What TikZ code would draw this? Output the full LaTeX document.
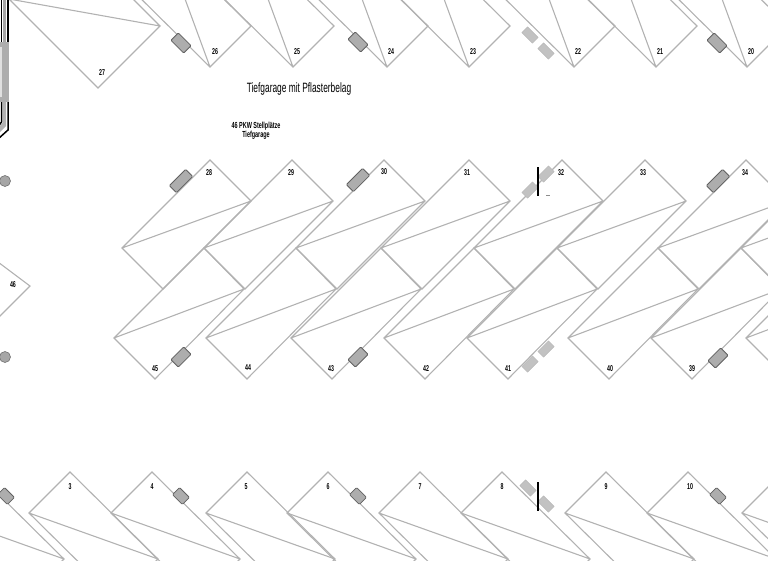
\documentclass[tikz,border=0pt]{standalone}
\usepackage{fontspec}
\newfontfamily\planfont[FakeStretch=0.62]{Liberation Sans}
\tikzset{
  stall/.style={draw=stallgray,line width=1.1pt,line join=miter},
  num/.style={font=\planfont\fontsize{8.5}{9}\selectfont\bfseries,inner sep=0pt,text=black},
  carbox/.style={draw=black!62,fill=black!32,rounded corners=1pt,line width=0.8pt,minimum width=23pt,minimum height=10pt,inner sep=0pt},
  carshort/.style={carbox,minimum width=18pt,minimum height=10.5pt},
  carsmall/.style={carbox,minimum width=14pt,minimum height=10pt},
  bike/.style={draw=black!28,fill=black!24,line width=0.5pt,minimum width=15pt,minimum height=8pt,inner sep=0pt},
  bar/.style={line width=2.4pt,black},
  post/.style={circle,draw=black!55,fill=black!35,line width=0.6pt,minimum size=11pt,inner sep=0pt},
}
\colorlet{stallgray}{black!30}
\begin{document}
\begin{tikzpicture}[x=1pt,y=-1pt]
  \useasboundingbox (0,0) rectangle (768,560);
  \clip (0,0) rectangle (768,560);

  \foreach \b in {210,293,387,469,574,656,747}
    \draw[stall] (\b,67) -- ++(41,-41) -- ++(-88,-87) -- ++(-41,41) -- cycle
      (\b,67) -- ++(-47,-128);
  \draw[stall] (160,26) -- (98,88) -- (9,-1) -- cycle (160,26) -- (120,-14);

  \foreach \l in {122,204,296,381,474,557,658,741}
    \draw[stall] (\l,248) -- ++(88,-88) -- ++(41,41) -- ++(-88,88) -- cycle
      (\l,248) -- ++(129,-47);
  \foreach \l in {114,206,291,384,467,568,651,746}
    \draw[stall] (\l,338) -- ++(41,41) -- ++(89,-90) -- ++(-40,-41) -- cycle
      (\l,338) -- ++(130,-49);

  \foreach \t in {-24,70,152,247,328,420,502,606,688,783}
    \draw[stall] (\t,472) -- ++(88,87) -- ++(-41,41) -- ++(-88,-87) -- cycle
      (\t-41,513) -- ++(129,46);
  \draw[stall] (-10,256) -- (30,286) -- (-10,326);

  \foreach \x/\y/\n in {102/73/27,215/52/26,297/52/25,391/52/24,473/52/23,578/52/22,660/52/21,751/52/20,
      209/173/28,291/173/29,384/172/30,467/173/31,561/173/32,643/173/33,745/173/34,
      155/369/45,248/368/44,331/369/43,426/369/42,508/369/41,610/369/40,692/369/39,13/285/46,
      70/487/3,152/487/4,246/487/5,328/487/6,420/487/7,502/487/8,606/487/9,690/487/10}
    \node[num] (n\n) at (\x,\y) {\n};

  \foreach \x/\y/\r [count=\i] in {181/181/45,358/180/45,718/181/45}
    \node[carbox,rotate=\r] (car\i) at (\x,\y) {};
  \foreach \x/\y/\r [count=\i] in {181/43/-45,358/42/-45,717/43/-45,181/357/45,358/357/45,718/358/45}
    \node[carshort,rotate=\r] (cars\i) at (\x,\y) {};
  \foreach \x/\y/\r [count=\i] in {6/496/-45,181/496/-45,358/496/-45,718/496/-45}
    \node[carsmall,rotate=\r] (carm\i) at (\x,\y) {};
  \foreach \x/\y/\r [count=\i] in {530/35/-45,546/51/-45,546/174/45,530/190/45,530/364/45,546/349/45,528/488/-45,546/504/-45}
    \node[bike,rotate=\r] (bike\i) at (\x,\y) {};

  \node[post] (post1) at (5,181) {};
  \node[post] (post2) at (5,357) {};
  \draw[bar] (538,167) -- (538,196);
  \draw[bar] (538,482) -- (538,511);
  \draw[black!45,line width=0.6pt] (546,195) -- (550,195);

  \fill[black!35] (3,-2) rectangle (6,42);
  \fill[black!32] (0,42) rectangle (9,102);
  \fill[black!12] (0,47) rectangle (2,97);
  \draw[line width=1.6pt,black] (1.5,-2) -- (1.5,42) (8,-2) -- (8,42);
  \draw[line width=1.5pt,black] (1.5,102) -- (1.5,122) -- (-2,127) (8,102) -- (8,130) -- (-2,139);
  \fill[black!30] (3,102) -- (6,102) -- (6,126) -- (0,132) -- (0,126) -- (3,122) -- cycle;

  \node[font=\planfont\fontsize{13.5}{14}\selectfont,inner sep=0pt,text=black] (title) at (299,89) {Tiefgarage mit Pflasterbelag};
  \node[font=\planfont\fontsize{8.8}{9}\selectfont\bfseries,inner sep=0pt,align=center,text=black] (caption) at (256,130.5) {46 PKW Stellplätze\\Tiefgarage};
\end{tikzpicture}
\end{document}
